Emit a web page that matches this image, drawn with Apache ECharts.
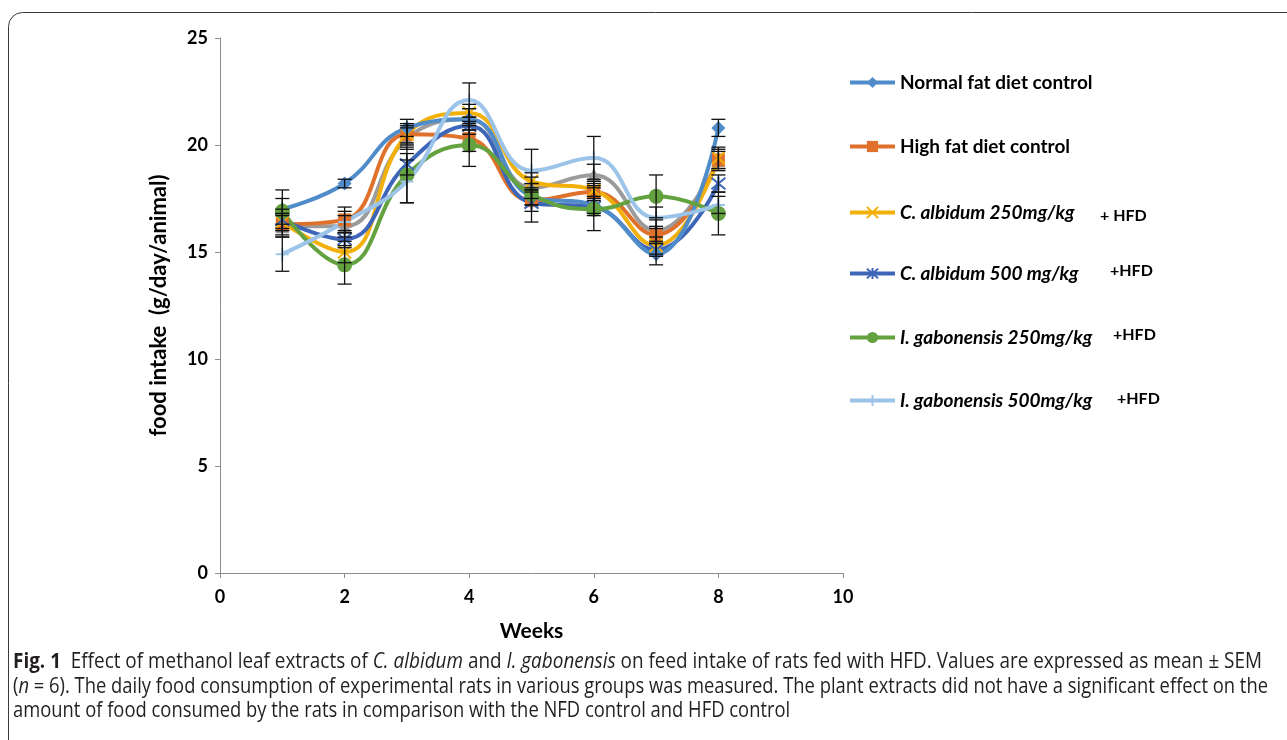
<!DOCTYPE html>
<html>
<head>
<meta charset="utf-8">
<script src="https://cdn.jsdelivr.net/npm/echarts@6/dist/echarts.min.js"></script>
<style>html,body{margin:0;padding:0;background:#fff}#c{width:1287px;height:740px}</style>
</head>
<body>
<div id="c"></div>
<script>
var weeks = [1, 2, 3, 4, 5, 6, 7, 8];
var seriesNames = ['Normal fat diet control', 'High fat diet control', 'C. albidum 250mg/kg', 'C. albidum 500 mg/kg', 'I. gabonensis 250mg/kg', 'I. gabonensis 500mg/kg', 'Series 7'];
var normalFat   = [17.0, 18.2, 20.8, 21.2, 17.6, 17.2, 14.9, 20.8];
var highFat     = [16.3, 16.5, 20.5, 20.3, 17.4, 17.8, 15.8, 19.3];
var cAlb250     = [16.4, 15.0, 20.5, 21.5, 18.3, 17.9, 15.3, 19.4];
var cAlb500     = [16.5, 15.6, 19.1, 20.9, 17.3, 17.1, 15.1, 18.2];
var iGab250     = [16.9, 14.4, 18.6, 20.0, 17.7, 17.0, 17.6, 16.8];
var iGab500     = [14.9, 16.4, 18.3, 22.1, 18.8, 19.4, 16.6, 17.2];
var series7     = [16.2, 16.2, 20.3, 21.2, 18.0, 18.6, 16.0, 19.3];
var errNormal   = [0.9, 0.2, 0.4, 0.5, 0.4, 0.4, 0.5, 0.4];
var errHigh     = [0.5, 0.6, 0.5, 0.6, 0.5, 0.4, 0.4, 0.4];
var errCAlb250  = [0.4, 0.5, 0.4, 0.4, 0.4, 0.4, 0.4, 0.5];
var errCAlb500  = [0.5, 0.4, 0.5, 0.4, 0.9, 0.4, 0.3, 0.4];
var errIGab250  = [0.6, 0.9, 1.3, 1.0, 0.5, 1.0, 1.0, 1.0];
var errIGab500  = [0.8, 0.5, 1.0, 0.8, 1.0, 1.0, 0.5, 0.4];
var errSeries7  = [0.5, 0.5, 0.5, 0.5, 0.5, 0.5, 0.5, 0.5];
var xTicks = [0, 2, 4, 6, 8, 10];
var yTicks = [0, 5, 10, 15, 20, 25];
var hfdSuffix = ['+ HFD', '+HFD', '+HFD', '+HFD'];

var values = [normalFat, highFat, cAlb250, cAlb500, iGab250, iGab500, series7];
var errors = [errNormal, errHigh, errCAlb250, errCAlb500, errIGab250, errIGab500, errSeries7];
var colors = ['#4F8CC9', '#E0712C', '#F2B10A', '#3E66B8', '#63A23F', '#9CC3E8', '#9B9B9B'];
var symbols = [
  'diamond', 'rect',
  'path://M0,0L10,10M10,0L0,10',
  'path://M0,0L10,10M10,0L0,10M5,-1L5,11',
  'circle',
  'path://M5,0L5,10M0,5L10,5',
  'triangle'
];
var symbolSizes = [14, 13, 13, 14, 15, 13, 14];
var strokeSymbols = [false, false, true, true, false, true, false];

var chart = echarts.init(document.getElementById('c'));
var FONT = 'Lato, "Open Sans", sans-serif';

var series = [];
var order = [6, 1, 2, 3, 0, 4, 5];
order.forEach(function (i) {
  series.push({
    name: seriesNames[i],
    type: 'line',
    smooth: 0.45,
    data: weeks.map(function (w, k) { return [w, values[i][k]]; }),
    symbol: symbols[i],
    symbolSize: symbolSizes[i],
    showSymbol: true,
    lineStyle: { color: colors[i], width: 4 },
    itemStyle: strokeSymbols[i] ? { color: colors[i], borderColor: colors[i], borderWidth: 2 } : { color: colors[i], borderWidth: 0 },
    z: 3,
    emphasis: { disabled: true }
  });
});
// error bars
var errData = [];
values.forEach(function (v, i) {
  weeks.forEach(function (w, k) {
    errData.push([w, v[k] - errors[i][k], v[k] + errors[i][k]]);
  });
});
series.push({
  type: 'custom',
  name: 'err',
  data: errData,
  encode: { x: 0, y: [1, 2] },
  z: 4,
  renderItem: function (params, api) {
    var lo = api.coord([api.value(0), api.value(1)]);
    var hi = api.coord([api.value(0), api.value(2)]);
    var hw = 7;
    var st = { stroke: '#111', lineWidth: 1.3 };
    return { type: 'group', children: [
      { type: 'line', shape: { x1: lo[0], y1: lo[1], x2: hi[0], y2: hi[1] }, style: st },
      { type: 'line', shape: { x1: lo[0] - hw, y1: lo[1], x2: lo[0] + hw, y2: lo[1] }, style: st },
      { type: 'line', shape: { x1: hi[0] - hw, y1: hi[1], x2: hi[0] + hw, y2: hi[1] }, style: st }
    ] };
  }
});

var legendTops = [82, 146, 212, 273, 337, 400];
var legends = [0, 1, 2, 3, 4, 5].map(function (i) {
  return {
    data: [seriesNames[i]],
    left: 843,
    top: legendTops[i] - 14,
    itemWidth: 45,
    itemHeight: 14,
    itemGap: 5,
    selectedMode: false,
    lineStyle: { width: 4 },
    formatter: function (n) { return i >= 2 ? '{i|' + n + '}' : '{b|' + n + '}'; },
    textStyle: {
      color: '#000',
      rich: {
        b: { fontFamily: FONT, fontWeight: 'bold', fontSize: 19, color: '#000' },
        i: { fontFamily: FONT, fontWeight: 'bold', fontStyle: 'italic', fontSize: 19, color: '#000' }
      }
    }
  };
});

// caption scaling
var CAPF = 21;
var cv = document.createElement('canvas').getContext('2d');
function segW(segs) {
  var t = 0;
  segs.forEach(function (s) { cv.font = s[1] + ' ' + CAPF + 'px "Open Sans"'; t += cv.measureText(s[0]).width; });
  return t;
}
var cap1 = [['Fig. 1', 'bold'], ['  Effect of methanol leaf extracts of ', 'normal'], ['C. albidum', 'italic'], [' and ', 'normal'], ['I. gabonensis', 'italic'], [' on feed intake of rats fed with HFD. Values are expressed as mean ± SEM', 'normal']];
var cap2 = [['(', 'normal'], ['n', 'italic'], [' = 6). The daily food consumption of experimental rats in various groups was measured. The plant extracts did not have a significant effect on the', 'normal']];
var s1 = 1249 / segW(cap1);
var s2 = 1255 / segW(cap2);
var capRich = {
  b: { fontFamily: 'Open Sans', fontWeight: 'bold', fontSize: CAPF, fill: '#231F20' },
  i: { fontFamily: 'Open Sans', fontStyle: 'italic', fontSize: CAPF, fill: '#231F20' }
};
function capStyle(txt) {
  return { text: txt, font: 'normal ' + CAPF + 'px "Open Sans"', fontFamily: 'Open Sans', fontSize: CAPF, fill: '#231F20', verticalAlign: 'middle', rich: capRich };
}

var graphics = [
  { type: 'rect', shape: { x: 8.5, y: 12.5, width: 1320, height: 800, r: 14 }, style: { fill: 'none', stroke: '#3a3a3a', lineWidth: 1 }, silent: true },
  { type: 'text', x: 13, y: 662, scaleX: s1, style: capStyle('{b|Fig. 1}  Effect of methanol leaf extracts of {i|C. albidum} and {i|I. gabonensis} on feed intake of rats fed with HFD. Values are expressed as mean ± SEM') },
  { type: 'text', x: 13, y: 687, scaleX: s2, style: capStyle('({i|n} = 6). The daily food consumption of experimental rats in various groups was measured. The plant extracts did not have a significant effect on the') },
  { type: 'text', x: 13, y: 711, scaleX: s2, style: capStyle('amount of food consumed by the rats in comparison with the NFD control and HFD control') }
];
var suffixPos = [[1100, 216], [1110, 271], [1113, 335], [1117, 399]];
suffixPos.forEach(function (p, k) {
  graphics.push({ type: 'text', x: p[0], y: p[1], style: { text: hfdSuffix[k], fontFamily: FONT, fontWeight: 'bold', fontSize: 16, fill: '#000', verticalAlign: 'middle' } });
});

chart.setOption({
  backgroundColor: '#fff',
  animation: false,
  grid: { left: 220, right: 444, top: 38, bottom: 167, containLabel: false },
  legend: legends,
  xAxis: {
    type: 'value', min: xTicks[0], max: xTicks[xTicks.length - 1], interval: 2,
    name: 'Weeks', nameLocation: 'middle', nameGap: 48,
    nameTextStyle: { fontFamily: FONT, fontWeight: 'bold', fontSize: 21, color: '#000' },
    axisLine: { show: true, lineStyle: { color: '#8c8c8c', width: 1 } },
    axisTick: { show: true, length: 5, lineStyle: { color: '#8c8c8c' } },
    axisLabel: { fontFamily: FONT, fontWeight: 'bold', fontSize: 18, color: '#000', margin: 15 },
    splitLine: { show: false }
  },
  yAxis: {
    type: 'value', min: yTicks[0], max: yTicks[yTicks.length - 1], interval: 5,
    name: 'food intake  (g/day/animal)', nameLocation: 'middle', nameGap: 50, nameRotate: 90,
    nameTextStyle: { fontFamily: FONT, fontWeight: 'bold', fontSize: 22, color: '#000' },
    axisLine: { show: true, lineStyle: { color: '#8c8c8c', width: 1 } },
    axisTick: { show: true, length: 5, lineStyle: { color: '#8c8c8c' } },
    axisLabel: { fontFamily: FONT, fontWeight: 'bold', fontSize: 18, color: '#000', margin: 12 },
    splitLine: { show: false }
  },
  series: series,
  graphic: graphics
});
</script>
</body>
</html>
